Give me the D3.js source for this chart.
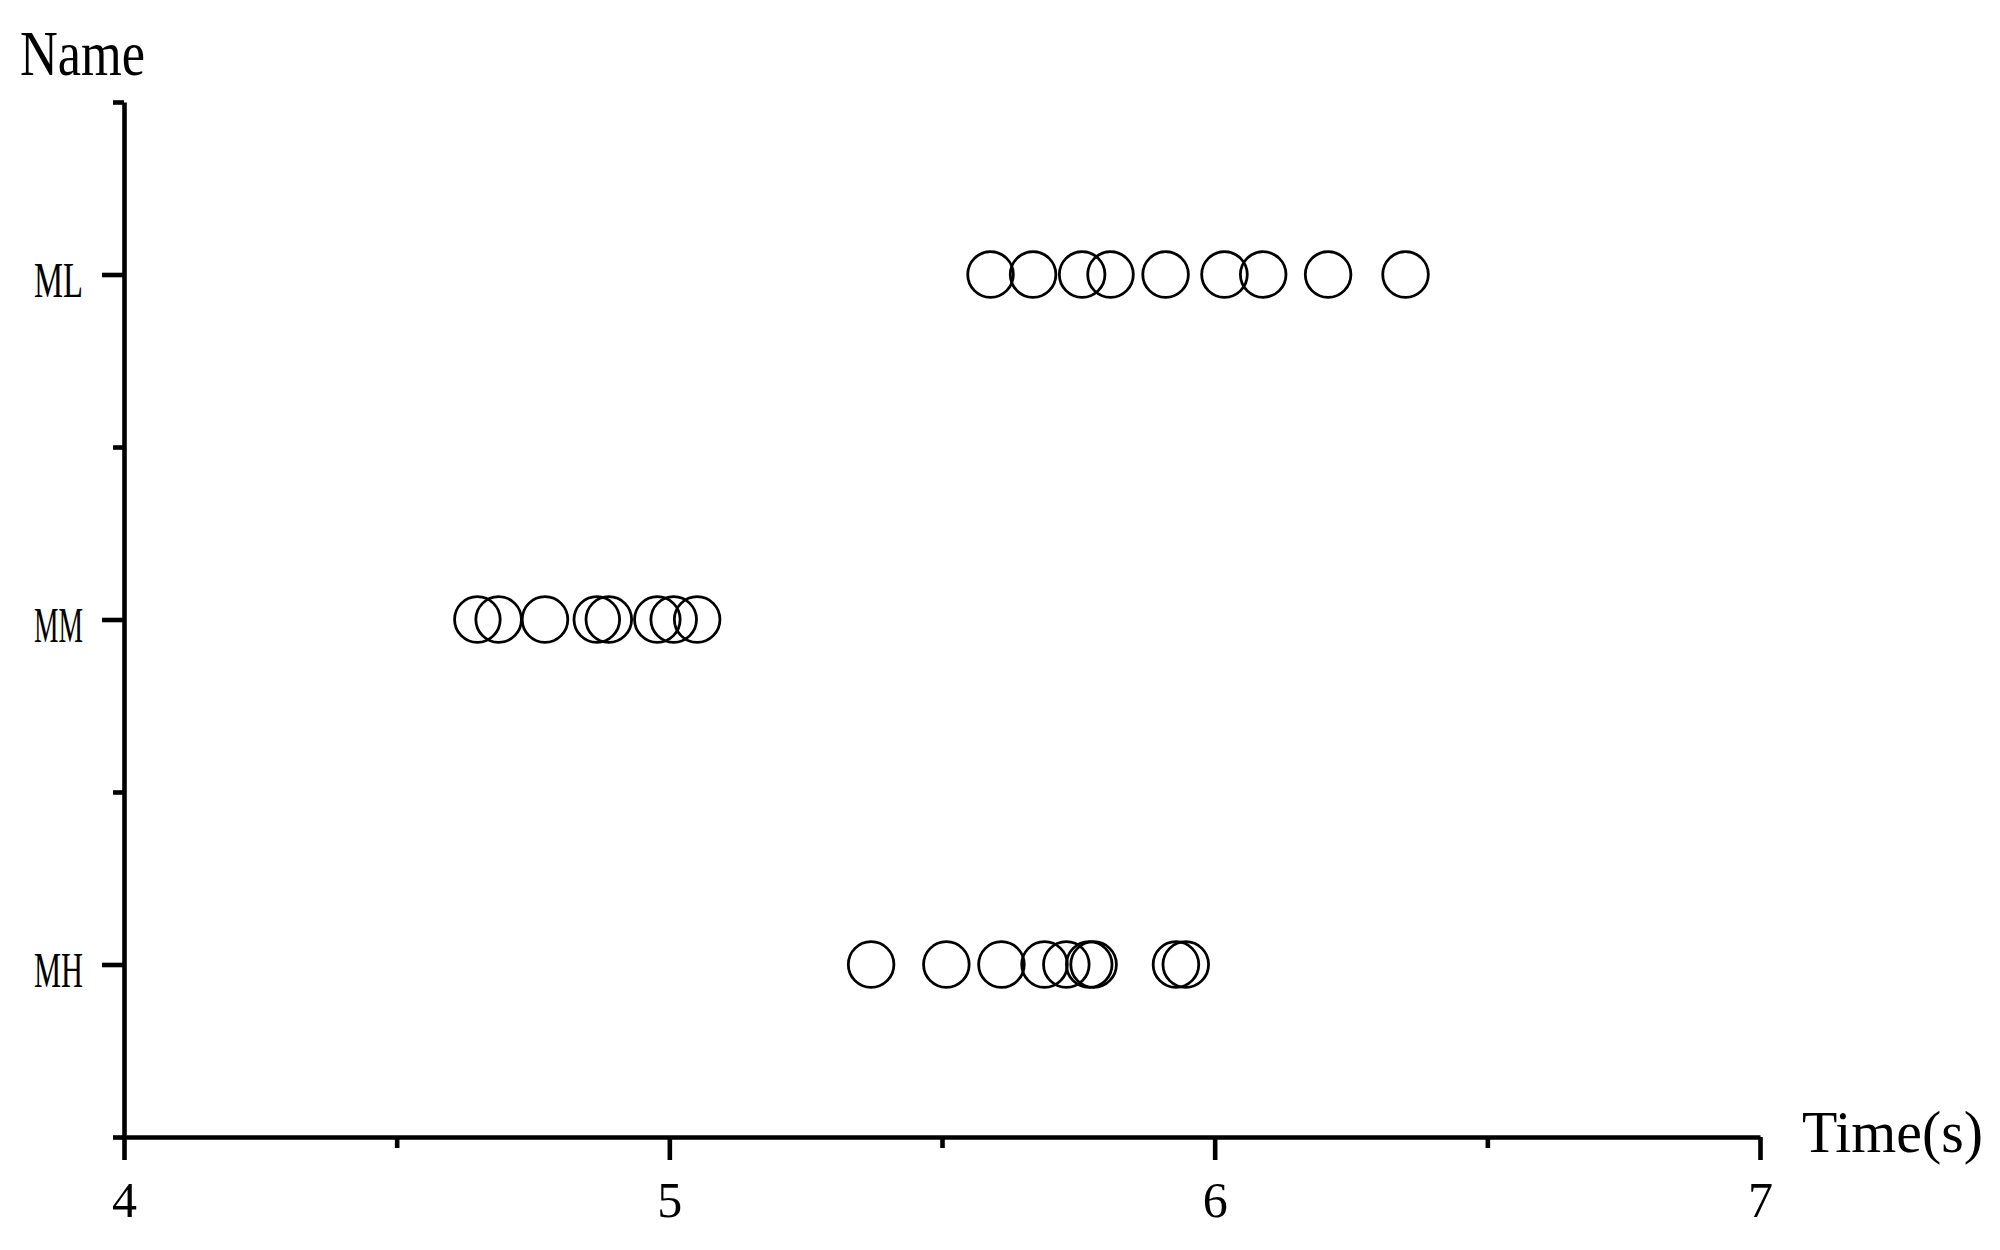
<!DOCTYPE html>
<html>
<head>
<meta charset="utf-8">
<script src="https://cdn.jsdelivr.net/npm/d3@7"></script>
<style>
  html, body { margin: 0; padding: 0; background: #fff; }
  svg { display: block; }
  text { font-family: "Liberation Serif", "DejaVu Serif", serif; fill: #000; }
</style>
</head>
<body>
<svg id="chart" width="2000" height="1250"></svg>
<script>
const names = ['MH', 'MM', 'ML'];
const nameLevels = [1, 2, 3];
const minorLevels = [0.5, 1.5, 2.5, 3.5];

const timeTicks = [4, 5, 6, 7];
const timeMinor = [4.5, 5.5, 6.5];

const mhTimes = [5.370, 5.508, 5.609, 5.688, 5.728, 5.770, 5.778, 5.929, 5.947];
const mmTimes = [4.648, 4.687, 4.772, 4.867, 4.889, 4.978, 5.008, 5.051];
const mlTimes = [5.589, 5.667, 5.757, 5.809, 5.910, 6.018, 6.089, 6.208, 6.350];

const series = [
  { level: 1, times: mhTimes },
  { level: 2, times: mmTimes },
  { level: 3, times: mlTimes },
];

const [x0, x1, y0, y1] = [124, 1760, 1137, 102];
const axisWidth = 4.6;

const svg = d3.select('#chart');

const x = d3.scaleLinear().domain([4, 7]).range([x0, x1]);
const y = d3.scaleLinear().domain([0.5, 3.5]).range([y0, y1]);

// minor ticks first, majors and domain line on top
svg.append('g')
    .attr('transform', `translate(0,${y0})`)
    .call(d3.axisBottom(x).tickValues(timeMinor).tickSize(11).tickSizeOuter(0).tickFormat(''))
    .call(g => g.select('.domain').remove());

svg.append('g')
    .attr('transform', `translate(${x0},0)`)
    .call(d3.axisLeft(y).tickValues(minorLevels).tickSize(11).tickSizeOuter(0).tickFormat(''))
    .call(g => g.select('.domain').remove());

const xAxis = svg.append('g')
    .attr('class', 'x-axis')
    .attr('transform', `translate(0,${y0})`)
    .call(d3.axisBottom(x).tickValues(timeTicks).tickSize(23).tickSizeOuter(0).tickFormat(d3.format('d')));

xAxis.selectAll('text')
    .attr('y', 80)
    .attr('dy', 0)
    .attr('font-size', 50);

const yAxis = svg.append('g')
    .attr('class', 'y-axis')
    .attr('transform', `translate(${x0},0)`)
    .call(d3.axisLeft(y).tickValues(nameLevels).tickSize(22).tickSizeOuter(0)
      .tickFormat((d, i) => names[i]));

yAxis.selectAll('text')
    .attr('x', -41)
    .attr('y', 22)
    .attr('dy', 0)
    .attr('font-size', 50)
    .attr('textLength', 49)
    .attr('lengthAdjust', 'spacingAndGlyphs');

svg.selectAll('.domain, .tick line')
    .attr('stroke', '#000')
    .attr('stroke-width', axisWidth);

svg.selectAll('.tick text')
    .attr('font-family', '"Liberation Serif", serif');

// points
svg.append('g')
    .attr('class', 'points')
  .selectAll('g')
  .data(series)
  .join('g')
  .selectAll('circle')
  .data(s => s.times.map(t => ({ t, level: s.level })))
  .join('circle')
    .attr('cx', d => x(d.t))
    .attr('cy', d => y(d.level))
    .attr('r', 22.8)
    .attr('fill', 'none')
    .attr('stroke', '#000')
    .attr('stroke-width', 2.8);

// axis titles
svg.append('text')
    .attr('x', 20)
    .attr('y', 75)
    .attr('font-size', 63)
    .attr('textLength', 125)
    .attr('lengthAdjust', 'spacingAndGlyphs')
    .text('Name');

svg.append('text')
    .attr('x', 1802)
    .attr('y', 1152)
    .attr('font-size', 60)
    .attr('textLength', 181)
    .attr('lengthAdjust', 'spacingAndGlyphs')
    .text('Time(s)');
</script>
</body>
</html>
